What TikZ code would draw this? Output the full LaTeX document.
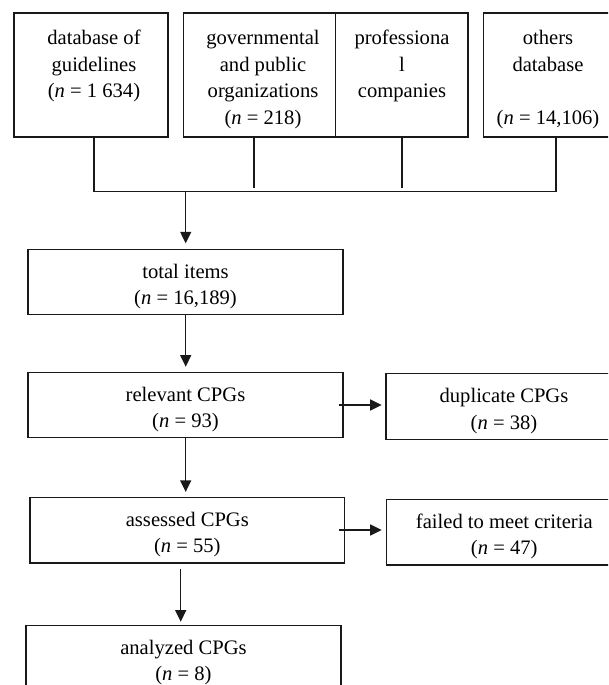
\documentclass[tikz,border=0pt]{standalone}
\usepackage{fontspec}
\setmainfont{Liberation Serif}
\usetikzlibrary{arrows.meta}
\begin{document}
\begin{tikzpicture}[x=1pt,y=-1pt,
  box/.style={draw=black!90, line width=1.2pt, inner sep=0pt, outer sep=0pt},
  txt/.style={inner sep=0pt, outer sep=0pt, align=center, font=\fontsize{20.6}{26.5}\selectfont},
  arr/.style={draw=black!90, line width=1.2pt, -{Triangle[length=11.5pt,width=11pt]}},
  ln/.style={draw=black!90, line width=1.2pt}]
\clip (0,0) rectangle (608,685);
% top source boxes
\node[box, minimum width=154pt, minimum height=124pt] (b1) at (91,75) {};
\node[box, minimum width=152.3pt, minimum height=124pt] (b2) at (259.65,75) {};
\node[box, minimum width=132.2pt, minimum height=124pt] (b3) at (401.9,75) {};
\node[box, minimum width=131.5pt, minimum height=124pt] (b4) at (549.25,75) {};
\node[txt, anchor=north] (t1) at (94,26) {\strut database of\\\strut guidelines\\\strut(\textit{n} = 1 634)};
\node[txt, anchor=north] (t2) at (263,26) {\strut governmental\\\strut and public\\\strut organizations\\\strut(\textit{n} = 218)};
\node[txt, anchor=north] (t3) at (402,26) {\strut professiona\\\strut l\\\strut companies};
\node[txt, anchor=north] (t4) at (548,26) {\strut others\\\strut database\\\strut\\\strut(\textit{n} = 14,106)};
% flow boxes
\node[box, minimum width=315pt, minimum height=65pt] (tot) at (185.5,281.8) {};
\node[box, minimum width=315pt, minimum height=65pt] (rel) at (185.5,405.2) {};
\node[box, minimum width=236pt, minimum height=66pt] (dup) at (504,406.3) {};
\node[box, minimum width=314.7pt, minimum height=65.5pt] (ass) at (187.35,530.25) {};
\node[box, minimum width=235.5pt, minimum height=65.7pt] (fail) at (504.25,532.15) {};
\node[box, minimum width=315pt, minimum height=65pt] (ana) at (183.5,658) {};
\node[txt] (ttot) at ([yshift=-4.15pt]tot.center) {\strut total items\\\strut(\textit{n} = 16,189)};
\node[txt] (trel) at ([yshift=-4.15pt]rel.center) {\strut relevant CPGs\\\strut(\textit{n} = 93)};
\node[txt] (tdup) at ([yshift=-4.15pt]dup.center) {\strut duplicate CPGs\\\strut(\textit{n} = 38)};
\node[txt] (tass) at ([yshift=-4.15pt]ass.center) {\strut assessed CPGs\\\strut(\textit{n} = 55)};
\node[txt] (tfail) at ([yshift=-4.15pt]fail.center) {\strut failed to meet criteria\\\strut(\textit{n} = 47)};
\node[txt] (tana) at ([yshift=-4.15pt]ana.center) {\strut analyzed CPGs\\\strut(\textit{n} = 8)};
% connectors
\coordinate (j1) at (94,191.7);
\coordinate (j4) at (556,191.7);
\coordinate (j2) at (254,188.3);
\coordinate (j3) at (402,188.3);
\coordinate (jm) at (185.7,191.7);
\coordinate (ja) at (180.7,600);
\draw[ln] (b1.south -| j1) -- (j1) -- (j4) -- (b4.south -| j4);
\draw[ln] (b2.south -| j2) -- (j2);
\draw[ln] (b3.south -| j3) -- (j3);
\draw[arr, shorten >=6pt] (jm) -- (tot.north -| jm);
\draw[arr, shorten >=6pt] (tot.south -| jm) -- (rel.north -| jm);
\draw[arr, shorten >=5.6pt] (rel.south -| jm) -- (ass.north -| jm);
\draw[arr, shorten <=5.6pt, shorten >=3.8pt] (ass.south -| ja) -- (ana.north -| ja);
\draw[arr, shorten <=-4pt, shorten >=4.3pt] ([yshift=0.2pt]rel.east) -- ([yshift=0.2pt]rel.east -| dup.west);
\draw[arr, shorten <=-5.7pt, shorten >=4.8pt] ([yshift=0.25pt]ass.east) -- ([yshift=0.25pt]ass.east -| fail.west);
\end{tikzpicture}
\end{document}
